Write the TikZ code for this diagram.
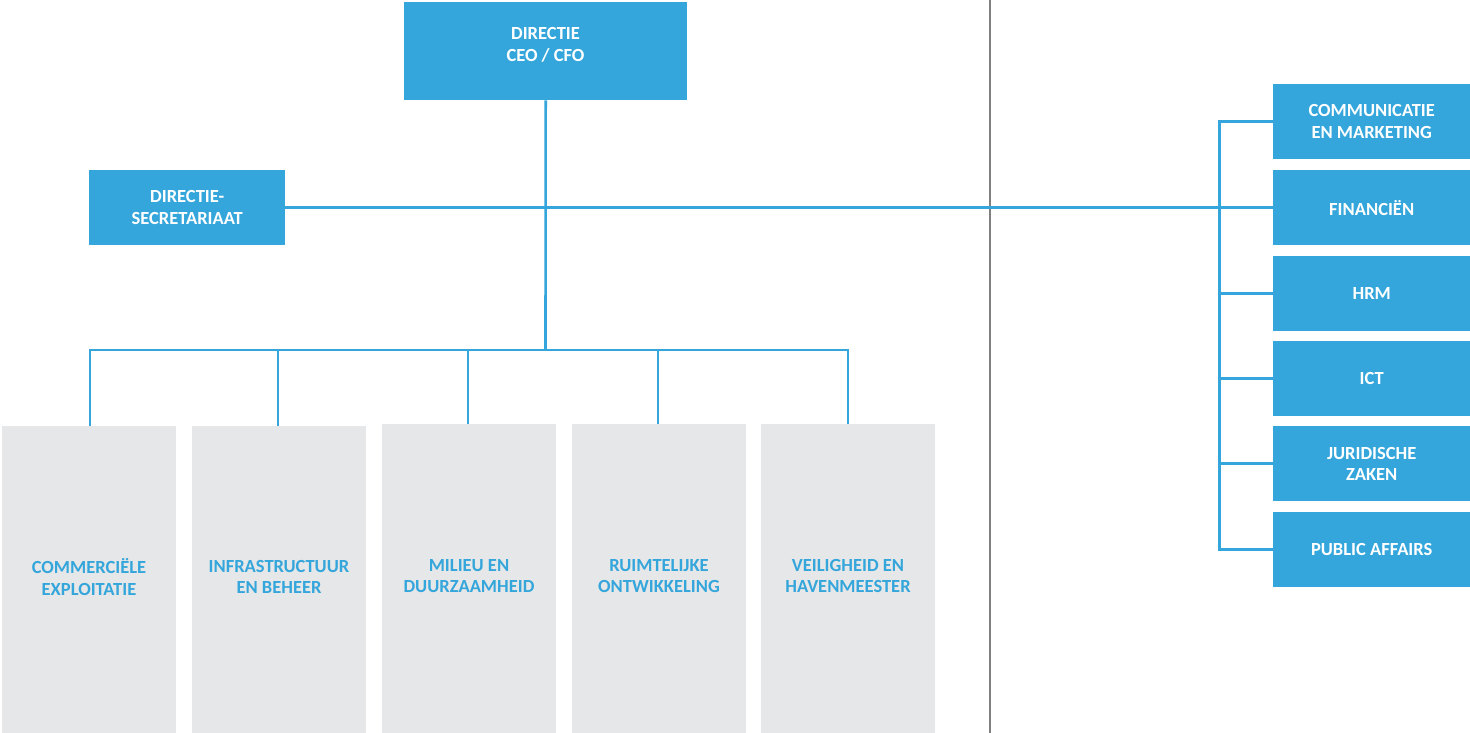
\documentclass[tikz,border=0pt]{standalone}
\usepackage{fontspec}
\setmainfont{Carlito}
\definecolor{pblue}{HTML}{34A6DB}
\definecolor{pgray}{HTML}{E6E7E8}
\definecolor{divgray}{HTML}{808080}
\begin{document}
\begin{tikzpicture}[x=1pt,y=-1pt,
  bluebox/.style={fill=pblue,draw=none,anchor=north west,inner sep=0pt},
  graybox/.style={fill=pgray,draw=none,anchor=north west,inner sep=0pt,minimum width=174pt,minimum height=309pt},
  wtext/.style={text=white,font=\fontsize{18.5}{21.5}\selectfont\bfseries,align=center,inner sep=0pt},
  btext/.style={text=pblue,font=\fontsize{18.5}{21.5}\selectfont\bfseries,align=center,inner sep=0pt},
  conn/.style={draw=pblue,line width=2.6pt},
  rbox/.style={bluebox,minimum width=197pt,minimum height=75pt}]
\useasboundingbox (0,0) rectangle (1470,733);
\fill[white] (0,0) rectangle (1470,733);
% divider
\coordinate (dtop) at (990,0);
\coordinate (dbot) at (990,733);
\draw[divgray,line width=1.5pt] (dtop) -- (dbot);
% top boxes
\node[bluebox,minimum width=283pt,minimum height=98pt] (dir) at (404,2) {};
\node[wtext] (dirt) at (545.5,45) {DIRECTIE\\CEO / CFO};
\node[bluebox,minimum width=196pt,minimum height=75pt] (sec) at (89,170) {};
\node[wtext] (sect) at (sec.center) {DIRECTIE-\\SECRETARIAAT};
% right boxes
\node[rbox] (r1) at (1273,84) {};
\node[rbox] (r2) at (1273,170) {};
\node[rbox] (r3) at (1273,256) {};
\node[rbox] (r4) at (1273,341) {};
\node[rbox] (r5) at (1273,426) {};
\node[rbox] (r6) at (1273,512) {};
\node[wtext] at (r1.center) {COMMUNICATIE\\EN MARKETING};
\node[wtext] at (r2.center) {FINANCIËN};
\node[wtext] at (r3.center) {HRM};
\node[wtext] at (r4.center) {ICT};
\node[wtext] at (r5.center) {JURIDISCHE\\ZAKEN};
\node[wtext] at (r6.center) {PUBLIC AFFAIRS};
% gray boxes
\node[graybox] (g1) at (2,426) {};
\node[graybox] (g2) at (192,426) {};
\node[graybox] (g3) at (382,424) {};
\node[graybox] (g4) at (572,424) {};
\node[graybox] (g5) at (761,424) {};
\node[btext] at (89,577) {COMMERCIËLE\\EXPLOITATIE};
\node[btext] at (279,577) {INFRASTRUCTUUR\\EN BEHEER};
\node[btext] at (469,576) {MILIEU EN\\DUURZAAMHEID};
\node[btext] at (659,576) {RUIMTELIJKE\\ONTWIKKELING};
\node[btext] at (848,576) {VEILIGHEID EN\\HAVENMEESTER};
% connectors
\coordinate (bus) at (545.5,350);
\coordinate (brk) at (1219.5,207);
\draw[conn] (dir.south) -- (bus);
\draw[conn] (sec.east) -- (r2.west);
\draw[conn] (g1.north -| 90,0) |- (bus) -| (g5.north -| 848,0);
\draw[conn] (bus -| 278,0) -- (g2.north -| 278,0);
\draw[conn] (bus -| 468,0) -- (g3.north -| 468,0);
\draw[conn] (bus -| 658,0) -- (g4.north -| 658,0);
\draw[conn] (r1.west) -| (brk) |- (r6.west);
\draw[conn] (r3.west) -- (r3.west -| brk);
\draw[conn] (r4.west) -- (r4.west -| brk);
\draw[conn] (r5.west) -- (r5.west -| brk);
\end{tikzpicture}
\end{document}
